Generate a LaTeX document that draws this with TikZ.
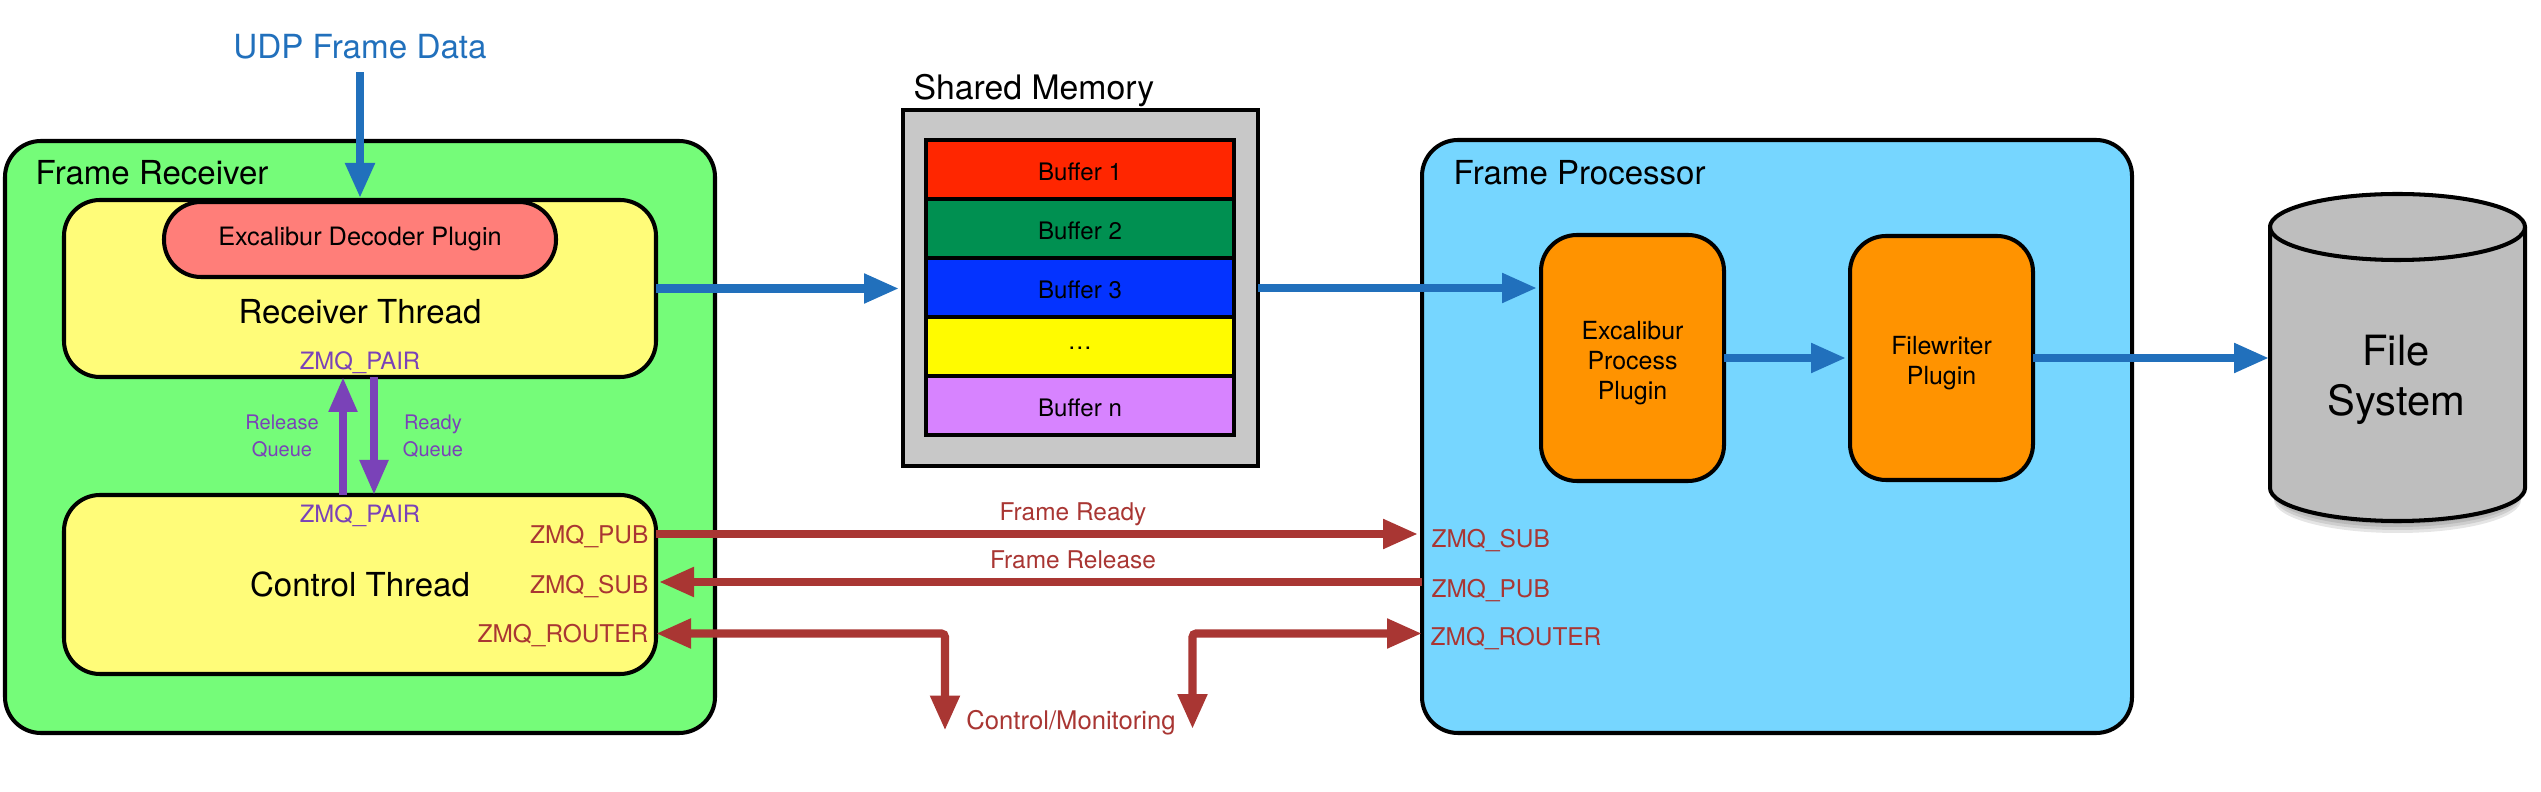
\documentclass[tikz,border=0pt]{standalone}
\usepackage{fontspec}
\setmainfont{TeX Gyre Heros}
\usepackage{xcolor}
\usepackage{tikz}
\usetikzlibrary{arrows.meta,positioning}
\definecolor{rxgreen}{HTML}{75FC79}
\definecolor{threadyellow}{HTML}{FFFC79}
\definecolor{decoderpink}{HTML}{FF7E79}
\definecolor{fpblue}{HTML}{76D6FF}
\definecolor{pluginorange}{HTML}{FF9300}
\definecolor{shmgrey}{HTML}{C8C8C8}
\definecolor{fsgrey}{HTML}{BEBEBE}
\definecolor{dataflow}{HTML}{2170BC}
\definecolor{ctrlflow}{HTML}{A93633}
\definecolor{queueflow}{HTML}{7A42B8}
\definecolor{bufa}{HTML}{FF2600}
\definecolor{bufb}{HTML}{009051}
\definecolor{bufc}{HTML}{0433FF}
\definecolor{bufd}{HTML}{FFFB00}
\definecolor{bufe}{HTML}{D783FF}
\newcommand{\fsz}[1]{\fontsize{#1}{#1}\selectfont}
\tikzset{
  box/.style={draw=black, line width=1.15pt, rounded corners=0.36cm, outer sep=0pt, inner sep=0pt},
  bufbox/.style={draw=black, line width=1.15pt, outer sep=0pt, inner sep=0pt, minimum width=3.08cm, minimum height=0.59cm},
  buftext/.style={inner sep=0pt, font=\fsz{6.85}},
  plugintext/.style={inner sep=0pt, align=center, font=\fontsize{7.1}{8.55}\selectfont},
  dataarrow/.style={draw=dataflow, line width=2.3pt, -{Triangle[length=0.35cm,width=0.28cm]}},
  ctrlarrow/.style={draw=ctrlflow, line width=2.3pt, -{Triangle[length=0.35cm,width=0.28cm]}},
  queuearrow/.style={draw=queueflow, line width=2.3pt, -{Triangle[length=0.35cm,width=0.27cm]}},
  ctrllabel/.style={ctrlflow, font=\fsz{6.95}, inner sep=0pt},
  queuelabel/.style={queueflow, font=\fsz{6.8}, inner sep=0pt},
}
\begin{document}
\begin{tikzpicture}
  \useasboundingbox (0,0) rectangle (25.41,7.91);
  % frame receiver
  \node[box, fill=rxgreen, minimum width=7.10cm, minimum height=5.92cm] (rx) at (3.60,3.54) {};
  \node[anchor=west, inner sep=0pt, font=\fsz{9.4}] (rxtitle) at (0.35,6.185) {Frame Receiver};
  \node[box, fill=threadyellow, minimum width=5.92cm, minimum height=1.77cm] (recv) at (3.60,5.025) {};
  \node[box, fill=decoderpink, rounded corners=0.37cm, minimum width=3.92cm, minimum height=0.75cm, font=\fsz{7.2}] (decoder) at (3.60,5.515) {Excalibur Decoder Plugin};
  \node[inner sep=0pt, font=\fsz{9.4}] (recvtext) at (3.60,4.79) {Receiver Thread};
  \node[queuelabel] (pairtop) at (3.60,4.285) {ZMQ\_PAIR};
  \node[box, fill=threadyellow, minimum width=5.92cm, minimum height=1.79cm, font=\fsz{9.4}] (ctrl) at (3.60,2.065) {Control Thread};
  \node[queuelabel] (pairbot) at (3.60,2.755) {ZMQ\_PAIR};
  \node[ctrllabel, anchor=east] (rxpub) at (6.49,2.545) {ZMQ\_PUB};
  \node[ctrllabel, anchor=east] (rxsub) at (6.49,2.04) {ZMQ\_SUB};
  \node[ctrllabel, anchor=east] (rxrouter) at (6.49,1.555) {ZMQ\_ROUTER};
  \node[queueflow, font=\fsz{5.7}, align=center, inner sep=0pt] (relq) at (2.82,3.55) {Release\\[2pt]Queue};
  \node[queueflow, font=\fsz{5.7}, align=center, inner sep=0pt] (rdyq) at (4.33,3.55) {Ready\\[2pt]Queue};
  % shared memory
  \node[draw=black, line width=1pt, fill=shmgrey, outer sep=0pt, minimum width=3.55cm, minimum height=3.555cm] (shm) at (10.805,5.03) {};
  \node[anchor=west, inner sep=0pt, font=\fsz{9.6}] (shmtitle) at (9.13,7.00) {Shared Memory};
  \node[bufbox, fill=bufa] (buf1) at (10.80,6.215) {};
  \node[bufbox, fill=bufb, below=0pt of buf1] (buf2) {};
  \node[bufbox, fill=bufc, below=0pt of buf2] (buf3) {};
  \node[bufbox, fill=bufd, below=0pt of buf3] (buf4) {};
  \node[bufbox, fill=bufe, below=0pt of buf4] (bufn) {};
  \node[buftext, yshift=-0.02cm] at (buf1) {Buffer 1};
  \node[buftext, yshift=-0.02cm] at (buf2) {Buffer 2};
  \node[buftext, yshift=-0.02cm] at (buf3) {Buffer 3};
  \node[buftext, yshift=-0.02cm] at (buf4) {\dots};
  \node[buftext, yshift=-0.02cm] at (bufn) {Buffer n};
  % frame processor
  \node[box, fill=fpblue, minimum width=7.10cm, minimum height=5.93cm] (fp) at (17.77,3.545) {};
  \node[anchor=west, inner sep=0pt, font=\fsz{9.4}] (fptitle) at (14.53,6.185) {Frame Processor};
  \node[box, fill=pluginorange, minimum width=1.83cm, minimum height=2.46cm] (proc) at (16.325,4.33) {};
  \node[box, fill=pluginorange, minimum width=1.83cm, minimum height=2.44cm, right=1.26cm of proc] (fwr) {};
  \node[plugintext, yshift=-0.05cm] (proctext) at (proc) {Excalibur\\Process\\Plugin};
  \node[plugintext, yshift=-0.05cm] (fwrtext) at (fwr) {Filewriter\\Plugin};
  \node[ctrllabel, anchor=west] (fpsub) at (14.31,2.505) {ZMQ\_SUB};
  \node[ctrllabel, anchor=west] (fppub) at (14.31,2.00) {ZMQ\_PUB};
  \node[ctrllabel, anchor=west] (fprouter) at (14.30,1.52) {ZMQ\_ROUTER};
  % file system
  \foreach \d in {0.03,0.06,0.09,0.12}
    \fill[black, opacity=0.1] (22.74,3.5-\d) -- (22.74,3.03-\d) arc[start angle=180, end angle=360, x radius=1.235, y radius=0.33] -- (25.21,3.5-\d) -- cycle;
  \draw[line width=1.15pt, fill=fsgrey] (22.70,5.64) -- (22.70,3.03) arc[start angle=180, end angle=360, x radius=1.275, y radius=0.33] -- (25.25,5.64) arc[start angle=0, end angle=180, x radius=1.275, y radius=0.33] -- cycle;
  \draw[line width=1.15pt] (22.70,5.64) arc[start angle=180, end angle=360, x radius=1.275, y radius=0.33];
  \node[inner sep=0pt, align=center, font=\fontsize{11.85}{14.2}\selectfont] (fstext) at (23.96,4.11) {File\\System};
  \coordinate (fswest) at (22.69,4.33);
  % free labels
  \node[dataflow, inner sep=0pt, font=\fsz{9.45}] (udp) at (3.60,7.44) {UDP Frame Data};
  \node[ctrllabel] (readylbl) at (10.73,2.77) {Frame Ready};
  \node[ctrllabel] (releaselbl) at (10.73,2.31) {Frame Release};
  \node[ctrllabel, font=\fsz{7.3}] (monlbl) at (10.71,0.685) {Control/Monitoring};
  \coordinate (monl) at (9.45,0.605);
  \coordinate (monr) at (11.925,0.62);
  % data path
  \draw[dataarrow, shorten <=0.12cm, shorten >=0.04cm] (udp.south) -- (decoder.north);
  \draw[dataarrow, shorten >=0.04cm] (recv.east) -- (recv.east -| shm.west);
  \draw[dataarrow, shorten >=0.04cm] (shm.east) -- (shm.east -| proc.west);
  \draw[dataarrow, shorten >=0.04cm] (proc.east) -- (fwr.west);
  \draw[dataarrow] (fwr.east) -- (fswest);
  % queues
  \draw[queuearrow] ([xshift=-0.17cm]ctrl.north) -- ([xshift=-0.17cm]recv.south);
  \draw[queuearrow] ([xshift=0.14cm]recv.south) -- ([xshift=0.14cm]ctrl.north);
  % control path
  \draw[ctrlarrow, shorten >=0.04cm] ([yshift=0.505cm]ctrl.east) -- ([yshift=0.505cm]ctrl.east -| fp.west);
  \draw[ctrlarrow, shorten >=0.03cm] ([yshift=0.025cm]ctrl.east -| fp.west) -- ([yshift=0.025cm]ctrl.east);
  \draw[ctrlarrow, {Triangle[length=0.35cm,width=0.28cm]}-{Triangle[length=0.35cm,width=0.28cm]}, rounded corners=1pt] ([yshift=-0.49cm]ctrl.east) -| (monl);
  \draw[ctrlarrow, {Triangle[length=0.35cm,width=0.28cm]}-{Triangle[length=0.35cm,width=0.28cm]}, rounded corners=1pt] (monr) |- ([yshift=-0.49cm]ctrl.east -| fp.west);
\end{tikzpicture}
\end{document}
